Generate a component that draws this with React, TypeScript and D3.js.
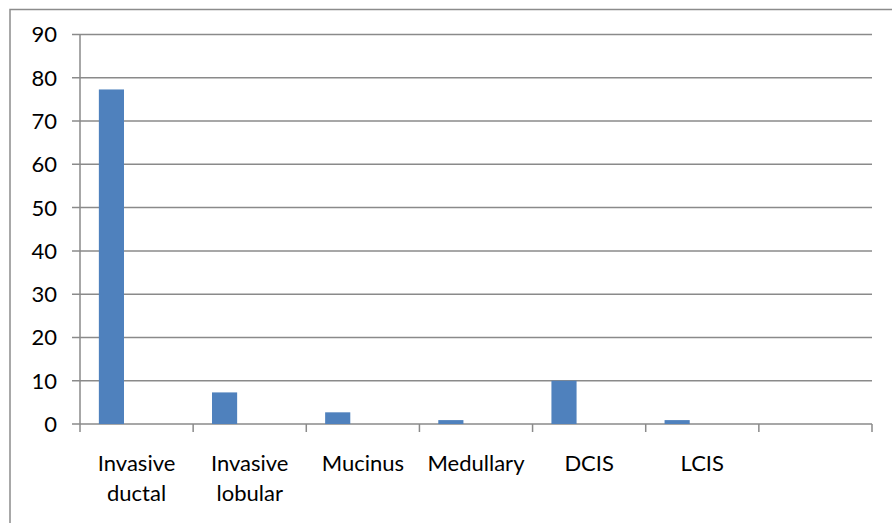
import React from "react";
import * as d3 from "d3";

const categories = ["Invasive ductal", "Invasive lobular", "Mucinus", "Medullary", "DCIS", "LCIS", ""];
const seriesNames = ["Series1", "Series2", "Series3"];
const series1 = [77.3, 7.3, 2.7, 0.9, 10, 0.9, null];
const yTicks = [0, 10, 20, 30, 40, 50, 60, 70, 80, 90];
const labelLines = [["Invasive", "ductal"], ["Invasive", "lobular"], ["Mucinus"], ["Medullary"], ["DCIS"], ["LCIS"], []];

const W = 892, H = 523;
const left = 80, right = 872, top = 34.5, bottom = 424;
const FONT = "Lato, 'Open Sans', sans-serif";
const GRID = "#8a8a8a";

export default function App() {
  const x = d3.scaleBand<string>().domain(categories.map((c, i) => i + ":" + c)).range([left, right]).paddingInner(0).paddingOuter(0);
  const bw = x.bandwidth();
  // Excel style clustered: 3 series, gap width 150%
  const barW = bw / (seriesNames.length + 1.5);
  const y = d3.scaleLinear().domain([0, 90]).range([bottom, top]);
  const keys = x.domain();
  return (
    <svg width={W} height={H} style={{ position: "absolute", left: 0, top: 0, background: "#fff" }} fontFamily={FONT}>
      <rect x={10} y={9.5} width={W + 20} height={H + 20} fill="#fff" stroke="#8c8c8c" strokeWidth={1.5} />
      {yTicks.map((t) => (
        <g key={t}>
          <line x1={left - 8} x2={right} y1={y(t)} y2={y(t)} stroke={GRID} strokeWidth={1.5} />
          <text x={57} y={y(t)} dy="0.36em" textAnchor="end" fontSize={22} fill="#000">{t}</text>
        </g>
      ))}
      <line x1={left} x2={left} y1={top} y2={bottom} stroke={GRID} strokeWidth={1.5} />
      {keys.map((k, i) => (
        <line key={"tk" + i} x1={x(k)!} x2={x(k)!} y1={bottom} y2={bottom + 8} stroke={GRID} strokeWidth={1.5} />
      ))}
      <line x1={right} x2={right} y1={bottom} y2={bottom + 8} stroke={GRID} strokeWidth={1.5} />
      {series1.map((v, i) =>
        v == null ? null : (
          <rect key={"b" + i} x={x(keys[i])! + barW * 0.75} y={y(v)} width={barW} height={y(0) - y(v)} fill="#4F81BD" />
        )
      )}
      {labelLines.map((lines, i) => (
        <text key={"l" + i} x={x(keys[i])! + bw / 2} textAnchor="middle" fontSize={22} fill="#000">
          {lines.map((ln, j) => (
            <tspan key={j} x={x(keys[i])! + bw / 2} y={471 + j * 30}>{ln}</tspan>
          ))}
        </text>
      ))}
    </svg>
  );
}
